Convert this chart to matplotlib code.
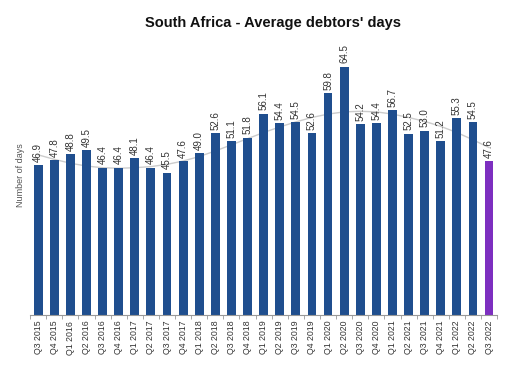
import numpy as np
import matplotlib
matplotlib.use('Agg')
import matplotlib.pyplot as plt

plt.rcParams['font.family'] = ['Liberation Sans', 'DejaVu Sans']

quarters = ['Q3 2015', 'Q4 2015', 'Q1 2016', 'Q2 2016', 'Q3 2016', 'Q4 2016',
            'Q1 2017', 'Q2 2017', 'Q3 2017', 'Q4 2017', 'Q1 2018', 'Q2 2018',
            'Q3 2018', 'Q4 2018', 'Q1 2019', 'Q2 2019', 'Q3 2019', 'Q4 2019',
            'Q1 2020', 'Q2 2020', 'Q3 2020', 'Q4 2020', 'Q1 2021', 'Q2 2021',
            'Q3 2021', 'Q4 2021', 'Q1 2022', 'Q2 2022', 'Q3 2022']
days = [46.9, 47.8, 48.8, 49.5, 46.4, 46.4, 48.1, 46.4, 45.5, 47.6, 49.0, 52.6,
        51.1, 51.8, 56.1, 54.4, 54.5, 52.6, 59.8, 64.5, 54.2, 54.4, 56.7, 52.5,
        53.0, 51.2, 55.3, 54.5, 47.6]
# grey trend line
trend = [48.7, 47.9, 47.2, 46.7, 46.4, 46.3, 46.4, 46.6, 47.0, 47.6, 48.4, 49.4,
         50.5, 51.6, 52.7, 53.7, 54.6, 55.4, 56.0, 56.4, 56.5, 56.4, 56.0, 55.4,
         54.7, 53.8, 52.7, 51.4, 50.0]

blue = '#1f4e8e'
purple = '#7d2fc0'

fig = plt.figure(figsize=(5.2, 3.82), dpi=100)
ax = fig.add_axes([0.058, 0.175, 0.898, 0.731])

x = np.arange(len(quarters))
colors = [blue] * (len(days) - 1) + [purple]
ax.bar(x, days, width=0.55, color=colors, zorder=2)
ax.plot(x, trend, color='#cccccc', linewidth=1.0, zorder=1)

for xi, v in zip(x, days):
    ax.text(xi, v + 0.6, f'{v:.1f}', rotation=90, ha='center', va='bottom',
            fontsize=7, color='#333333')

ax.set_xlim(-0.5, len(quarters) - 0.5)
ax.set_ylim(20, 70)
ax.set_xticks(x)
ax.set_xticklabels(quarters, rotation=90, fontsize=6.3, color='#333333')
ax.set_xticks(np.arange(-0.5, len(quarters), 1), minor=True)
ax.tick_params(axis='x', which='major', length=0, pad=4)
ax.tick_params(axis='x', which='minor', length=3, color='#999999')
ax.set_yticks([])
for s in ['top', 'right', 'left']:
    ax.spines[s].set_visible(False)
ax.spines['bottom'].set_color('#999999')

ax.set_ylabel('Number of days', fontsize=6.5, color='#555555', labelpad=4)

fig.text(0.525, 0.94, "South Africa - Average debtors' days", ha='center',
         va='center', fontsize=10.5, fontweight='bold', color='#111111')

fig.savefig('out.png', dpi=100)
